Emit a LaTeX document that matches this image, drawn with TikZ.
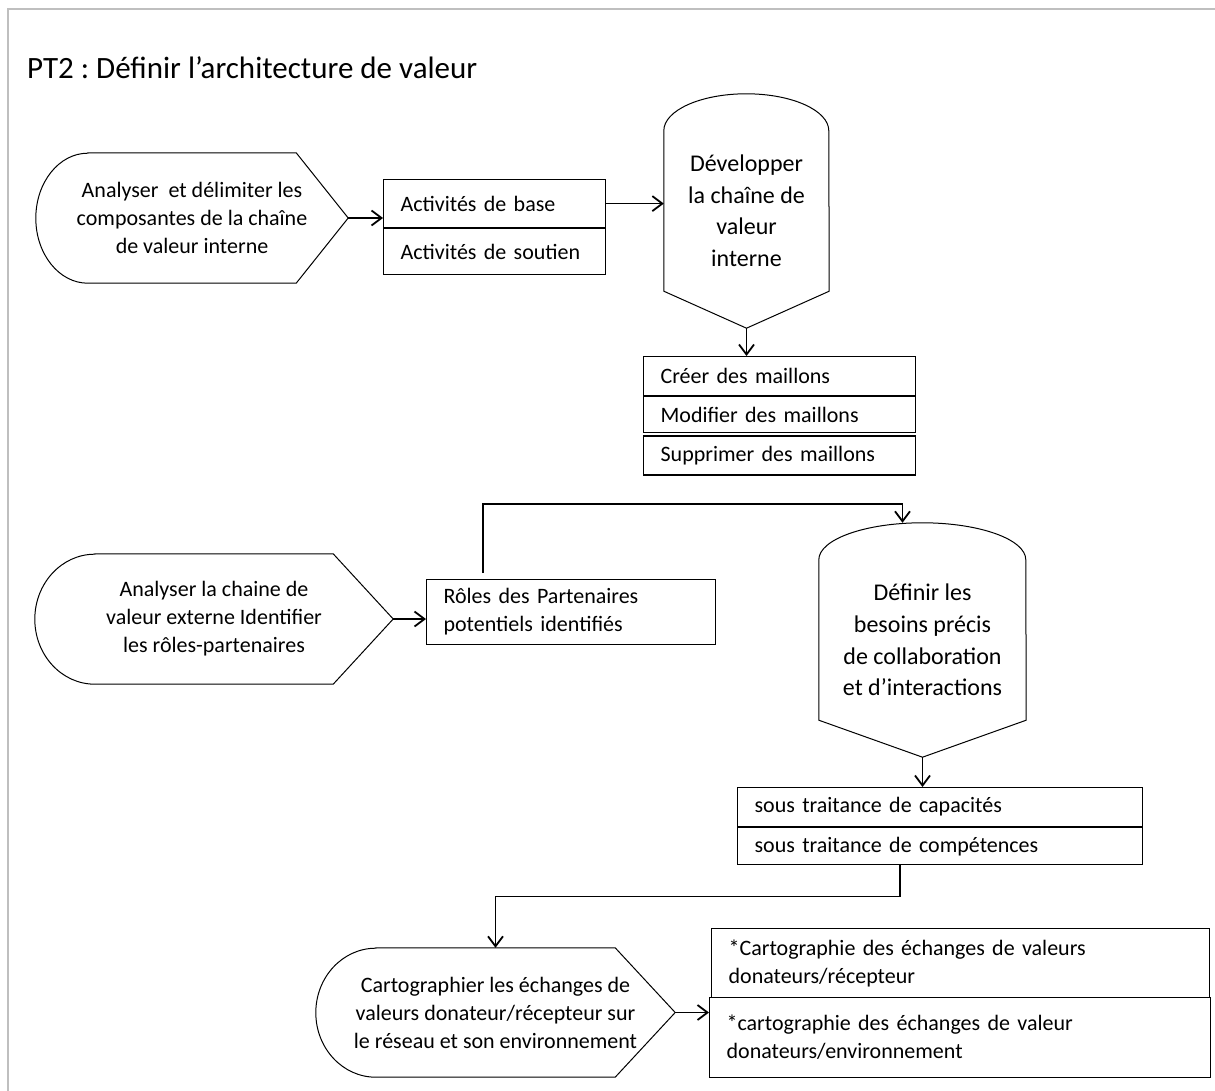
\documentclass[tikz,border=0pt]{standalone}
\usepackage{fontspec}
\setmainfont{Carlito}
\frenchspacing
\usetikzlibrary{arrows.meta,positioning}
\definecolor{PageGray}{HTML}{BFBFBF}
\newcommand{\bodyfont}{\fontsize{22}{28}\selectfont}
\newcommand{\bigfont}{\fontsize{24}{31.5}\selectfont}
\newcommand{\titlefont}{\fontsize{31}{36}\selectfont}
% round-left / pointed-right outline around a node (node, depth, half height)
\newcommand{\sideframe}[3]{\draw[outline] ([xshift=#2]#1.north west) -- ([xshift=-#2]#1.north east) -- (#1.east) -- ([xshift=-#2]#1.south east) -- ([xshift=#2]#1.south west) arc[start angle=270,end angle=90,x radius=#2,y radius=#3] -- cycle;}
% round-top / pointed-bottom outline around a node (node, depth, half width)
\newcommand{\topframe}[3]{\draw[outline] ([yshift=-#2]#1.north west) arc[start angle=180,end angle=0,x radius=#3,y radius=#2] -- ([yshift=#2]#1.south east) -- (#1.south) -- ([yshift=#2]#1.south west) -- cycle;}

\begin{document}
\begin{tikzpicture}[x=1pt,y=-1pt,
  cell/.style={draw,line width=1.2pt,inner xsep=17pt,inner ysep=0pt,align=left,font=\bodyfont},
  blob/.style={inner sep=0pt,align=center,font=\bodyfont},
  outline/.style={line width=1pt},
  arrow/.style={-{Straight Barb[length=10pt,width=15pt]},line width=1.8pt}
]
\useasboundingbox (0,0) rectangle (1215,1091);
\draw[PageGray,line width=2pt] (8,1091) -- (8,9) -- (1215,9);
\node[anchor=base west,inner sep=0pt,font=\titlefont] (title) at (27,79) {PT2 : Définir l’architecture de valeur};

% chaine interne
\node[blob,minimum width=312pt,minimum height=130pt] (analyse) at (192,218) {Analyser~ et délimiter les\\composantes de la chaîne\\de valeur interne};
\sideframe{analyse}{52pt}{65pt}
\node[cell,anchor=north west,text width=188pt,minimum height=48pt] (base) at (383,179) {Activités de base};
\node[cell,below=0pt of base,text width=188pt,minimum height=46pt] (soutien) {Activités de soutien};
\node[blob,font=\bigfont,minimum width=165pt,minimum height=234pt] (developper) at (746.5,211) {Développer\\la chaîne de\\valeur\\interne};
\topframe{developper}{37pt}{82.5pt}
\node[cell,anchor=north west,text width=238pt,minimum height=39pt] (creer) at (643,356) {Créer des maillons};
\node[cell,below=0pt of creer,text width=238pt,minimum height=36pt] (modifier) {Modifier des maillons};
\node[cell,below=2pt of modifier,text width=238pt,minimum height=39pt] (supprimer) {Supprimer des maillons};

% chaine externe
\node[blob,minimum width=358pt,minimum height=130pt] (externe) at (214,619) {Analyser la chaine de\\valeur externe Identifier\\les rôles-partenaires};
\sideframe{externe}{60pt}{65pt}
\node[cell,anchor=north west,text width=255pt,minimum height=65pt] (roles) at (426,579) {Rôles des Partenaires\\potentiels identifiés};
\node[blob,font=\bigfont,minimum width=207pt,minimum height=234pt] (definir) at (922.5,640) {Définir les\\besoins précis\\de collaboration\\et d’interactions};
\topframe{definir}{37pt}{103.5pt}
\node[cell,anchor=north west,text width=371pt,minimum height=39pt] (capacites) at (737,787) {sous traitance de capacités};
\node[cell,below=0pt of capacites,text width=371pt,minimum height=37pt] (competences) {sous traitance de compétences};

% cartographie
\node[blob,minimum width=359pt,minimum height=129pt] (carto) at (495.5,1012.5) {Cartographier les échanges de\\valeurs donateur/récepteur sur\\le réseau et son environnement};
\sideframe{carto}{60pt}{64.5pt}
\node[cell,anchor=north west,text width=464pt,minimum height=69pt] (recepteur) at (711,928) {*Cartographie des échanges de valeurs\\donateurs/récepteur};
\node[cell,anchor=north west,text width=467pt,minimum height=80pt] (environnement) at (709,997) {*cartographie des échanges de valeur\\donateurs/environnement};

\draw[arrow] (analyse.east) -- (analyse.east -| base.west);
\draw[arrow] (base.east) -- (base.east -| developper.west);
\draw[arrow] (developper.south) -- (developper.south |- creer.north);
\draw[arrow] (externe.east) -- (externe.east -| roles.west);
\draw[arrow] ([xshift=57pt,yshift=6pt]roles.north west) |- ([xshift=-20pt,yshift=19pt]definir.north) -- ([xshift=-20pt]definir.north);
\draw[arrow] (definir.south) -- (definir.south |- capacites.north);
\draw[arrow] ([xshift=-40pt]competences.south) -- ++(0,31) -| (carto.north);
\draw[arrow] (carto.east) -- (carto.east -| environnement.west);
\end{tikzpicture}
\end{document}
